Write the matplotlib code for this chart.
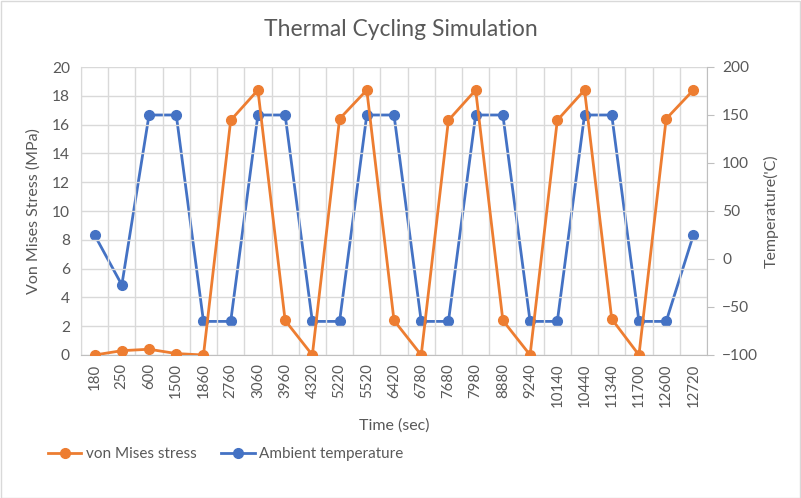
import numpy as np
import matplotlib.pyplot as plt
from matplotlib.ticker import MultipleLocator

plt.rcParams['font.family'] = ['Lato', 'DejaVu Sans']

times = ['180', '250', '600', '1500', '1860', '2760', '3060', '3960', '4320', '5220',
         '5520', '6420', '6780', '7680', '7980', '8880', '9240', '10140', '10440',
         '11340', '11700', '12600', '12720']
stress = [0, 0.3, 0.4, 0.1, 0, 16.3, 18.4, 2.4, 0, 16.4, 18.4, 2.4, 0, 16.3, 18.4,
          2.4, 0, 16.3, 18.4, 2.5, 0, 16.4, 18.4]
temp = [25, -27, 150, 150, -65, -65, 150, 150, -65, -65, 150, 150, -65, -65, 150,
        150, -65, -65, 150, 150, -65, -65, 25]

orange = '#ED7D31'
blue = '#4472C4'
txt = '#595959'
grid = '#D9D9D9'

fig = plt.figure(figsize=(8.01, 4.98), dpi=100)
ax = fig.add_axes([81 / 801, 1 - 355 / 498, (707 - 81) / 801, (355 - 67) / 498])
ax2 = ax.twinx()

x = np.arange(len(times))
ax.set_zorder(ax2.get_zorder() + 1)
ax.patch.set_visible(False)

l1, = ax.plot(x, stress, color=orange, lw=2, marker='o', ms=7, label='von Mises stress', zorder=4)
l2, = ax2.plot(x, temp, color=blue, lw=2, marker='o', ms=7, label='Ambient temperature')

ax.set_ylim(0, 20)
ax.yaxis.set_major_locator(MultipleLocator(2))
ax2.set_ylim(-100, 200)
ax2.yaxis.set_major_locator(MultipleLocator(50))
ax.set_xlim(-0.5, len(times) - 0.5)
ax.set_xticks(x)
ax.set_xticklabels(times, rotation=90)
ax.set_xticks(np.arange(-0.5, len(times), 1), minor=True)

ax2.grid(False)
ax.grid(True, axis='y', color=grid, lw=1)
ax.grid(True, axis='x', which='minor', color=grid, lw=1)
ax.set_axisbelow(True)
ax2.set_zorder(0)

for a in (ax, ax2):
    for s in a.spines.values():
        s.set_visible(False)
ax.spines['bottom'].set_visible(True)
ax.spines['bottom'].set_color('#BFBFBF')
ax2.spines['right'].set_visible(True)
ax2.spines['right'].set_color('#BFBFBF')
ax.spines['left'].set_visible(True)
ax.spines['left'].set_color(grid)

ax.tick_params(axis='x', which='both', length=0, colors=txt, labelsize=10.8, pad=6)
ax.tick_params(axis='y', length=0, colors=txt, labelsize=11.2, pad=8)
ax2.tick_params(axis='y', length=5, color='#BFBFBF', colors=txt, labelsize=11.2, pad=6)

ax.set_xlabel('Time (sec)', color=txt, fontsize=11.5, labelpad=8)
ax.set_ylabel('Von Mises Stress (MPa)', color=txt, fontsize=11.5, labelpad=8)
ax2.set_ylabel("Temperature('C)", color=txt, fontsize=11.5, labelpad=4)

fig.text(0.5, 1 - 30 / 498, 'Thermal Cycling Simulation', ha='center', va='center',
         color=txt, fontsize=16.5)

fig.legend(handles=[l1, l2], loc='center left', bbox_to_anchor=(34 / 801, 1 - 454 / 498),
           ncol=2, frameon=False, fontsize=11, labelcolor=txt, handlelength=2.2,
           handletextpad=0.3, columnspacing=1.6)

fig.patches.append(plt.Rectangle((0.001, 0.001), 0.998, 0.997, transform=fig.transFigure,
                                 fill=False, edgecolor='#D9D9D9', lw=1))

fig.savefig('out.png', dpi=100)
